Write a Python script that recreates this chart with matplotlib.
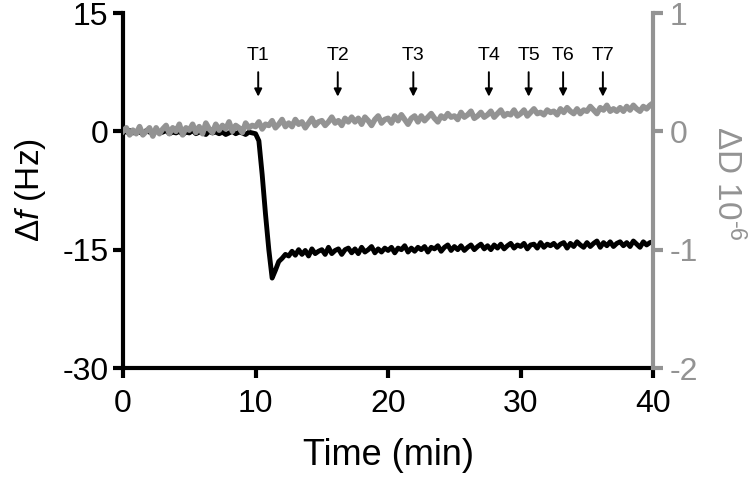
import numpy as np
import matplotlib
matplotlib.use('Agg')
import matplotlib.pyplot as plt

plt.rcParams['font.family'] = ['Liberation Sans', 'DejaVu Sans']
plt.rcParams['mathtext.fontset'] = 'custom'
plt.rcParams['mathtext.rm'] = 'Liberation Sans'
plt.rcParams['mathtext.it'] = 'Liberation Sans:italic'
plt.rcParams['axes.unicode_minus'] = False

# time grid, every 0.25 min
time = np.arange(0, 40.25, 0.25)

# frequency shift (Hz)
delta_f = [
    0.0, -0.1, 0.1, -0.2, 0.0, -0.1, -0.3, 0.1, -0.1, -0.2,
    0.0, -0.2, -0.1, 0.1, -0.3, -0.1, -0.2, 0.0, -0.4, -0.1,
    -0.2, 0.1, -0.3, -0.1, -0.2, -0.4, 0.0, -0.2, -0.1, -0.3,
    -0.1, -0.4, -0.2, 0.0, -0.3, -0.1, -0.2, -0.4, -0.1, -0.2,
    -0.3,
    -1.2, -5.5, -10.5, -15.0, -18.6, -17.6, -16.5, -16.1, -15.6,
    -15.8, -15.2, -15.7, -15.0, -15.6, -15.1, -15.8, -14.9, -15.5, -15.2,
    -15.0, -15.6, -14.7, -15.5, -15.1, -14.9, -15.6, -15.0, -14.8, -15.4,
    -14.9, -15.5, -14.7, -15.3, -15.0, -14.6, -15.4, -14.9, -15.3, -14.8,
    -15.1, -14.7, -15.4, -14.8, -15.0, -14.5, -15.3, -14.8, -15.2, -14.7,
    -15.0, -14.6, -15.3, -14.7, -14.9, -14.5, -15.2, -14.7, -14.4, -15.1,
    -14.6, -15.0, -14.5, -15.1, -14.7, -14.4, -15.0, -14.6, -14.3, -14.9,
    -14.5, -15.0, -14.4, -14.8, -14.3, -14.9, -14.5, -14.2, -14.8, -14.4,
    -14.6, -14.2, -14.9, -14.4, -14.3, -14.8, -14.1, -14.7, -14.3, -14.5,
    -14.2, -14.7, -14.3, -14.1, -14.8, -14.2, -14.6, -14.0, -14.4, -14.7,
    -14.1, -14.6, -14.2, -13.9, -14.7, -14.1, -14.5, -14.0, -14.6, -14.2,
    -14.0, -14.5, -14.1, -14.6, -13.9, -14.3, -14.7, -14.0, -14.4, -14.1, -14.0,
]

# dissipation shift (1e-6)
delta_d = [
    0.00, 0.03, -0.03, 0.01, -0.02, 0.04, -0.03, 0.00, 0.03, -0.04,
    0.03, -0.02, 0.02, 0.05, -0.02, 0.03, 0.00, 0.06, -0.03, 0.03,
    0.01, 0.06, -0.01, 0.04, -0.02, 0.07, 0.02, -0.01, 0.06, 0.01,
    0.05, 0.02, 0.08, 0.00, 0.05, 0.03, -0.01, 0.07, 0.03, 0.05,
    0.04, 0.08, 0.02, 0.06, 0.05, 0.09, 0.03, 0.06, 0.10, 0.04,
    0.07, 0.04, 0.10, 0.06, 0.08, 0.03, 0.07, 0.11, 0.05, 0.08,
    0.09, 0.05, 0.08, 0.12, 0.07, 0.09, 0.05, 0.11, 0.08, 0.12,
    0.08, 0.11, 0.06, 0.12, 0.09, 0.05, 0.10, 0.13, 0.07, 0.10,
    0.11, 0.07, 0.13, 0.09, 0.14, 0.10, 0.06, 0.11, 0.13, 0.08,
    0.13, 0.09, 0.12, 0.15, 0.11, 0.08, 0.13, 0.11, 0.15, 0.12,
    0.13, 0.10, 0.16, 0.12, 0.14, 0.17, 0.11, 0.13, 0.16, 0.12,
    0.14, 0.17, 0.12, 0.15, 0.18, 0.13, 0.15, 0.14, 0.18, 0.13,
    0.15, 0.18, 0.13, 0.16, 0.19, 0.15, 0.16, 0.14, 0.18, 0.16,
    0.17, 0.14, 0.19, 0.16, 0.20, 0.17, 0.15, 0.19, 0.15, 0.18,
    0.17, 0.21, 0.18, 0.15, 0.20, 0.18, 0.22, 0.17, 0.19, 0.17,
    0.20, 0.17, 0.21, 0.18, 0.22, 0.19, 0.17, 0.21, 0.19, 0.22, 0.24,
]

# injection marks
marks = ['T1', 'T2', 'T3', 'T4', 'T5', 'T6', 'T7']
mark_times = [10.2, 16.2, 21.9, 27.6, 30.6, 33.2, 36.2]

gray = '#939393'

fig = plt.figure(figsize=(7.5, 4.82), dpi=100)
ax = fig.add_axes([0.164, 0.2365, 0.707, 0.7365])
ax2 = ax.twinx()

ax.plot(time, delta_f, color='black', lw=3.5)
ax2.plot(time, delta_d, color=gray, lw=4)
# gray trace sits over the black one
ax.set_zorder(0)
ax2.set_zorder(1)
ax2.patch.set_visible(False)

ax.set_xlim(0, 40)
ax.set_ylim(-30, 15)
ax2.set_ylim(-2, 1)
ax.set_xticks([0, 10, 20, 30, 40])
ax.set_yticks([-30, -15, 0, 15])
ax2.set_yticks([-2, -1, 0, 1])

for s in ['top', 'right']:
    ax.spines[s].set_visible(False)
for s in ['top', 'left', 'bottom']:
    ax2.spines[s].set_visible(False)
ax.spines['left'].set_linewidth(3)
ax.spines['bottom'].set_linewidth(3)
ax2.spines['right'].set_linewidth(3)
ax2.spines['right'].set_color(gray)

ax.tick_params(axis='both', width=3, length=7, labelsize=23, colors='black')
ax.tick_params(axis='x', pad=8)
ax2.tick_params(axis='y', width=3, length=7, labelsize=23, colors=gray, pad=5)

ax.set_xlabel('Time (min)', fontsize=26, labelpad=14)
ax.set_ylabel(r'$\Delta\mathit{f}$ (Hz)', fontsize=24, labelpad=10)
ax2.set_ylabel(r'$\Delta$D 10$^{\text{-}6}$', fontsize=24, color=gray,
               rotation=270, va='center', ha='center')
ax2.yaxis.set_label_coords(1.14, 0.52)

for name, t in zip(marks, mark_times):
    ax.annotate('', xy=(t, 4.4), xytext=(t, 7.5),
                arrowprops=dict(arrowstyle='-|>', color='black', lw=1.4,
                                mutation_scale=11, shrinkA=0, shrinkB=0))
    ax.text(t, 9.6, name, ha='center', va='center', fontsize=14)

fig.savefig('out.png', dpi=100)
